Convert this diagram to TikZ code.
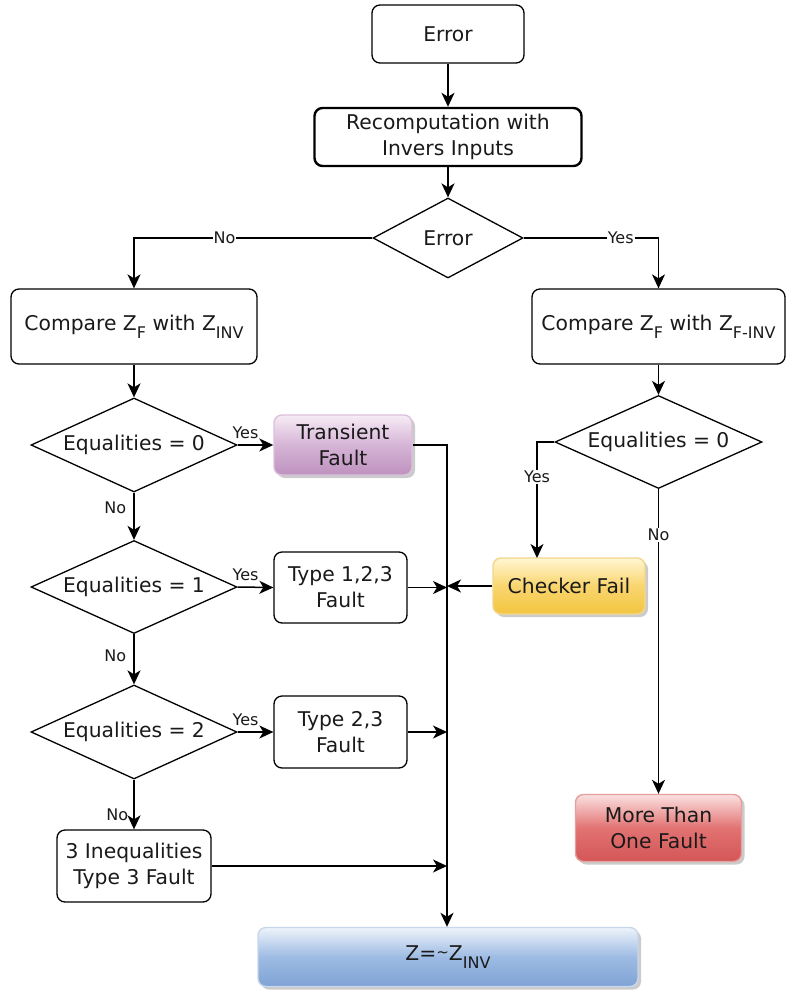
\documentclass[tikz,border=0pt]{standalone}
\usepackage{fontspec}
\setmainfont{DejaVu Sans}
\usetikzlibrary{shapes.geometric,arrows.meta,shadows}
\newcommand{\sbs}[1]{\raisebox{-8pt}{\fontsize{16}{16}\selectfont #1}}
\definecolor{txt}{HTML}{1A1A1A}
\definecolor{purT}{HTML}{F6ECF6}
\definecolor{purM}{HTML}{D6B4D6}
\definecolor{purB}{HTML}{BE92BE}
\definecolor{purD}{HTML}{DCC0DC}
\definecolor{yelT}{HTML}{FFF6D2}
\definecolor{yelM}{HTML}{F9D56E}
\definecolor{yelB}{HTML}{F2C540}
\definecolor{yelD}{HTML}{F3D78C}
\definecolor{redT}{HTML}{FBE0E0}
\definecolor{redM}{HTML}{E27272}
\definecolor{redB}{HTML}{D45656}
\definecolor{redD}{HTML}{E6A0A0}
\definecolor{bluT}{HTML}{EEF3FA}
\definecolor{bluM}{HTML}{9DBBE3}
\definecolor{bluB}{HTML}{7FA3D6}
\definecolor{bluD}{HTML}{C8D7EC}
\tikzset{
  box/.style={draw, rounded corners=8pt, line width=1.3pt, align=center, inner sep=2pt,
    font=\fontsize{20.3}{26}\selectfont, text=txt},
  dia/.style={draw, diamond, aspect=2.2, inner sep=0pt, line width=1.3pt,
    font=\fontsize{20.3}{26}\selectfont, text=txt},
  glass/.style={box, line width=1.4pt, drop shadow={shadow xshift=3pt, shadow yshift=-3pt, fill=black!45, opacity=0.45}},
  lbl/.style={font=\fontsize{16}{17}\selectfont, inner sep=1pt, fill=white, text=txt},
  lblt/.style={font=\fontsize{16}{17}\selectfont, inner sep=1pt, text=txt},
  con/.style={line width=1.5pt, -{Stealth[length=14pt,width=13pt,inset=4pt]}}
}
\begin{document}
\begin{tikzpicture}[x=1pt,y=-1pt]
\useasboundingbox (0,0) rectangle (785,991);
\fill[white] (0,0) rectangle (785,991);

\node[box, minimum width=152pt, minimum height=58pt] (err) at (448,34) {Error};
\node[box, line width=2.4pt, minimum width=267pt, minimum height=58pt] (rec) at (448,137) {Recomputation with\\Invers Inputs};
\node[dia, aspect=1.9, minimum width=150pt, minimum height=80pt] (derr) at (448,238) {Error};

\node[box, minimum width=246pt, minimum height=75pt] (cmpl) at (134,326.5) {Compare Z\sbs{F} with Z\sbs{INV}};
\node[box, minimum width=253pt, minimum height=75pt] (cmpr) at (658.5,326.5) {Compare Z\sbs{F} with Z\sbs{F-INV}};

\node[dia, minimum width=206pt, minimum height=94pt] (dl0) at (134,445) {Equalities = 0};
\node[dia, minimum width=207pt, minimum height=93pt] (dr0) at (658.5,442) {Equalities = 0};
\node[dia, minimum width=206pt, minimum height=93pt] (dl1) at (134,587) {Equalities = 1};
\node[dia, minimum width=206pt, minimum height=94pt] (dl2) at (134,732) {Equalities = 2};

\node[glass, draw=purD, top color=purT, bottom color=purB, middle color=purM, minimum width=138pt, minimum height=60pt] (trans) at (343,445) {Transient\\Fault};
\node[box, minimum width=133pt, minimum height=71pt] (t123) at (340.5,587.5) {Type 1,2,3\\Fault};
\node[box, minimum width=133pt, minimum height=72pt] (t23) at (340.5,732) {Type 2,3\\Fault};
\node[box, minimum width=154pt, minimum height=72pt] (ineq) at (134,866) {3 Inequalities\\Type 3 Fault};

\node[glass, draw=yelD, top color=yelT, bottom color=yelB, middle color=yelM, minimum width=152pt, minimum height=56pt] (chk) at (569,586) {Checker Fail};
\node[glass, draw=redD, top color=redT, bottom color=redB, middle color=redM, minimum width=166pt, minimum height=67pt] (more) at (658.5,828) {More Than\\One Fault};
\node[glass, draw=bluD, top color=bluT, bottom color=bluB, middle color=bluM, minimum width=380pt, minimum height=59pt] (z) at (448,957) {Z=\raisebox{3pt}{\fontsize{15}{15}\selectfont\textasciitilde}Z\sbs{INV}};

\coordinate (bus) at (447,445);
\coordinate (chkin) at (537,558);

% connectors
\draw[con] (err) -- (rec);
\draw[con] (rec) -- (derr);
\draw[con] (derr.west) -| node[lbl, pos=0.31] {No} (cmpl.north);
\draw[con] (derr.east) -| node[lbl, pos=0.36] {Yes} (cmpr.north);
\draw[con] (cmpl) -- (dl0);
\draw[con] (cmpr) -- (dr0);

\draw[con] (dl0.east) -- node[lblt, above, pos=0.22, yshift=5pt] {Yes} (trans.west);
\draw[con] (dl0.south) -- node[lblt, left=6pt, pos=0.31] {No} (dl1.north);
\draw[con] (dl1.east) -- node[lblt, above, pos=0.22, yshift=5pt] {Yes} (t123.west);
\draw[con] (dl1.south) -- node[lblt, left=6pt, pos=0.44] {No} (dl2.north);
\draw[con] (dl2.east) -- node[lblt, above, pos=0.22, yshift=5pt] {Yes} (t23.west);
\draw[con] (dl2.south) -- node[lblt, left=4pt, pos=0.7] {No} (ineq.north);

\draw[con] (dr0.west) -| node[lbl, pos=0.65] {Yes} (chkin);
\draw[con] (dr0.south) -- node[lbl, pos=0.15] {No} (more.north);

\draw[con] (trans.east) -| (bus |- z.north);
\draw[con] (t123.east) -- (bus |- t123.east);
\draw[con] (chk.west) -- (bus |- chk.west);
\draw[con] (t23.east) -- (bus |- t23.east);
\draw[con] (ineq.east) -- (bus |- ineq.east);
\end{tikzpicture}
\end{document}
